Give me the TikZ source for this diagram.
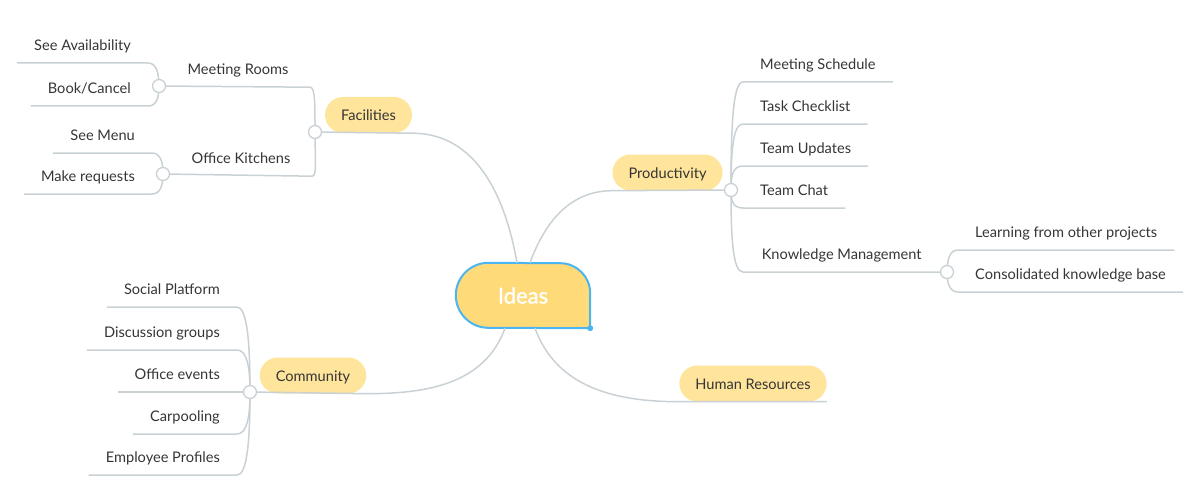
\documentclass[tikz,border=0pt]{standalone}
\usepackage{fontspec}
\setmainfont{Lato}
\newfontfamily\rootfont[FakeBold=1]{Lato}
\usetikzlibrary{backgrounds}
\definecolor{wiregray}{HTML}{C9D1D5}
\definecolor{pill}{HTML}{FFE49B}
\definecolor{rootfill}{HTML}{FFDA78}
\definecolor{rootline}{HTML}{4AB5F0}
\definecolor{ink}{HTML}{353535}

\begin{document}
\begin{tikzpicture}[x=1pt, y=-1pt,
		every node/.style={font=\fontsize{14.6}{17}\selectfont, text=ink},
		topic/.style={fill=pill, rounded corners=18pt, minimum height=36pt, inner xsep=16pt, inner ysep=0pt, text height=13pt, text depth=2pt},
		leaf/.style={minimum height=36pt, inner xsep=17pt, inner ysep=0pt, text height=13pt, text depth=2pt},
		knot/.style={circle, draw=wiregray, fill=white, line width=1.3pt, minimum size=13pt, inner sep=0pt},
		branch/.style={draw=wiregray, line width=1.5pt}]
	\useasboundingbox (0,0) rectangle (1198,500);
	% Root:
	\node[font=\rootfont\fontsize{22}{26}\selectfont, text=white, minimum width=134pt, minimum height=65pt, inner sep=0pt] (ideas) at (523,295.5) {Ideas};
	\begin{pgfonlayer}{background}
		\draw[fill=rootfill, draw=rootline, line width=2pt] (ideas.south east) -- ([yshift=35pt]ideas.south east) arc[start angle=0, end angle=90, radius=30pt] -- ([xshift=32.5pt]ideas.north west) arc[start angle=90, end angle=270, radius=32.5pt] -- cycle;
	\end{pgfonlayer}
	\fill[rootline] (ideas.south east) circle[radius=3pt];
	% Topics:
	\node[topic] (fac) at (368.5,115) {Facilities};
	\node[topic] (prod) at (667.5,172.5) {Productivity};
	\node[topic] (comm) at (313,375.5) {Community};
	\node[topic] (hr) at (753,383.5) {Human Resources};
	% Facilities:
	\coordinate (facK) at (315,132);
	\coordinate (roomsK) at (159,86);
	\coordinate (kitchK) at (163,174);
	\node[leaf, minimum width=144pt] (rooms) at (238,69) {Meeting Rooms};
	\node[leaf, minimum width=142pt] (kitchens) at (241,158) {Office Kitchens};
	\node[leaf, anchor=south east] (avail) at (148,63) {See Availability};
	\node[leaf, anchor=south east] (book) at (148,106) {Book/Cancel};
	\node[leaf, anchor=south east] (menu) at (152,153) {See Menu};
	\node[leaf, anchor=south east] (requests) at (152,194) {Make requests};
	% Productivity:
	\coordinate (prodK) at (731,190);
	\coordinate (knowK) at (947,272);
	\node[leaf, anchor=south west] (sched) at (743,82) {Meeting Schedule};
	\node[leaf, anchor=south west] (tasks) at (743,124) {Task Checklist};
	\node[leaf, anchor=south west] (updates) at (743,166) {Team Updates};
	\node[leaf, anchor=south west] (chat) at (743,208) {Team Chat};
	\node[leaf, anchor=south west, minimum width=197pt] (knowledge) at (743,272) {Knowledge Management};
	\node[leaf, anchor=south west] (learn) at (958,250) {Learning from other projects};
	\node[leaf, anchor=south west] (base) at (958,292) {Consolidated knowledge base};
	% Community:
	\coordinate (commK) at (250,392);
	\node[leaf, anchor=south east] (social) at (237,307) {Social Platform};
	\node[leaf, anchor=south east] (discuss) at (237,350) {Discussion groups};
	\node[leaf, anchor=south east] (events) at (237,392) {Office events};
	\node[leaf, anchor=south east] (carpool) at (237,434) {Carpooling};
	\node[leaf, anchor=south east] (profiles) at (237,475) {Employee Profiles};
	% Branches:
	\draw[branch] ([xshift=-6pt]ideas.north) to[out=100, in=0] (fac.south east) -- (facK);
	\draw[branch] ([xshift=7pt]ideas.north) to[out=70, in=180] (prod.south west) -- (prodK);
	\draw[branch] ([xshift=-18pt]ideas.south) to[out=250, in=0] (comm.south east) -- (commK);
	\draw[branch] ([xshift=12pt]ideas.south) to[out=290, in=180] (hr.south west) -- (hr.south east);
	\draw[branch] (facK) .. controls +(0,-27) and +(5,0) .. (rooms.south east) -- (roomsK);
	\draw[branch] (facK) .. controls +(0,26) and +(5,0) .. (kitchens.south east) -- (kitchK);
	\foreach \kid/\dy in {avail/-14, book/13}
		\draw[branch] (roomsK) .. controls +(0,\dy) and +(8,0) .. (\kid.south east) -- (\kid.south west);
	\foreach \kid/\dy in {menu/-13, requests/12}
		\draw[branch] (kitchK) .. controls +(0,\dy) and +(8,0) .. (\kid.south east) -- (\kid.south west);
	\foreach \kid/\dy in {sched/-65, tasks/-40, updates/-15, chat/11}
		\draw[branch] (prodK) .. controls +(0,\dy) and +(-10,0) .. (\kid.south west) -- (\kid.south east);
	\draw[branch] (prodK) .. controls +(0,50) and +(-10,0) .. (knowledge.south west) -- (knowK);
	\foreach \kid/\dy in {learn/-13, base/12}
		\draw[branch] (knowK) .. controls +(0,\dy) and +(-8,0) .. (\kid.south west) -- (\kid.south east);
	\foreach \kid/\dy in {social/-51, discuss/-25, carpool/25, profiles/50}
		\draw[branch] (commK) .. controls +(0,\dy) and +(10,0) .. (\kid.south east) -- (\kid.south west);
	\draw[branch] (commK) -- (events.south east) -- (events.south west);
	% Knots:
	\foreach \k in {facK, prodK, commK, roomsK, kitchK, knowK}
		\node[knot] (\k-dot) at (\k) {};
\end{tikzpicture}
\end{document}
